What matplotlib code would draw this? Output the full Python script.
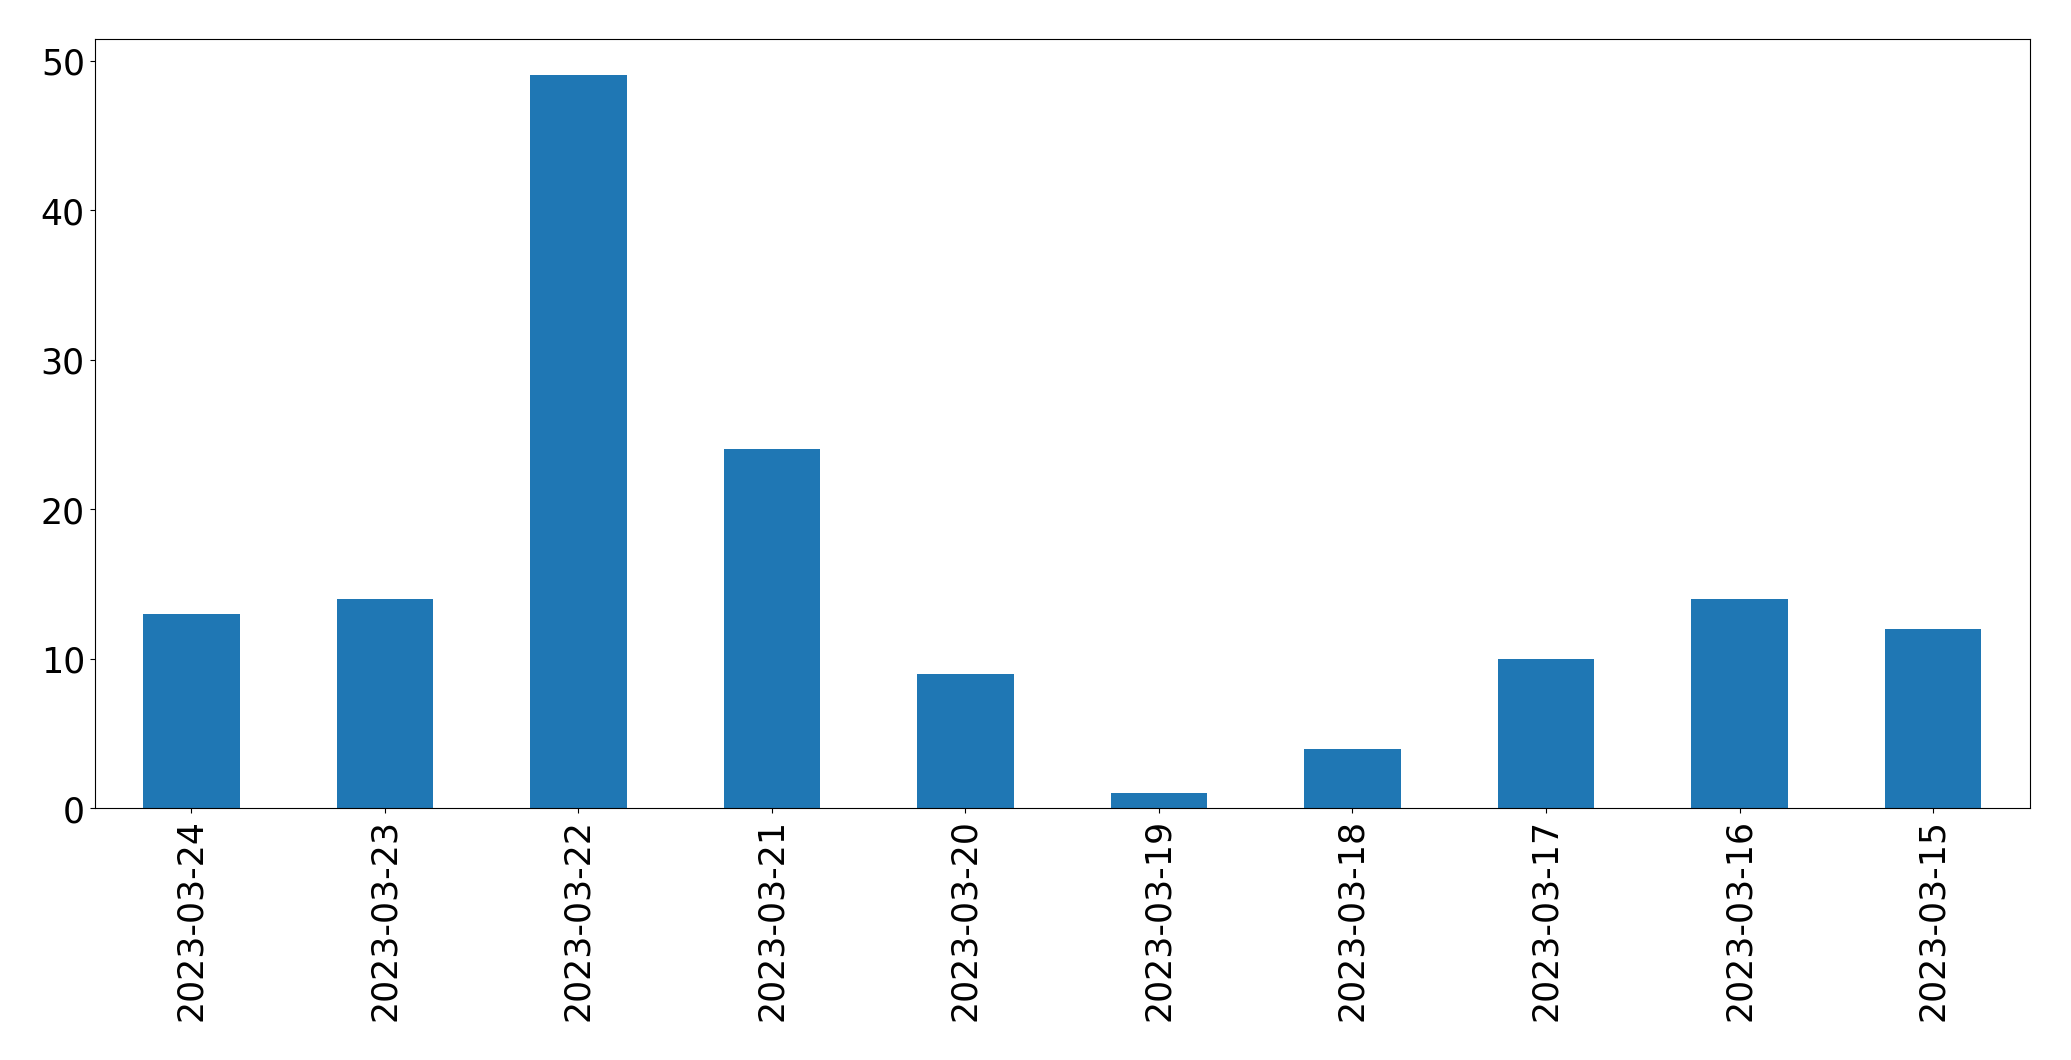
import matplotlib
matplotlib.use("Agg")
import matplotlib.pyplot as plt
import pandas as pd

dates = ['2023-03-24', '2023-03-23', '2023-03-22', '2023-03-21', '2023-03-20',
         '2023-03-19', '2023-03-18', '2023-03-17', '2023-03-16', '2023-03-15']
counts = [13, 14, 49, 24, 9, 1, 4, 10, 14, 12]

s = pd.Series(counts, index=dates)

fig = plt.figure(figsize=(20.71, 10.605), dpi=100)
ax = fig.add_axes([0.0457, 0.2372, 0.9344, 0.7257])
s.plot.bar(ax=ax, color='#1f77b4')

ax.tick_params(axis='both', labelsize=25)
plt.setp(ax.get_xticklabels(), rotation=90)

fig.savefig('out.png', dpi=100)
